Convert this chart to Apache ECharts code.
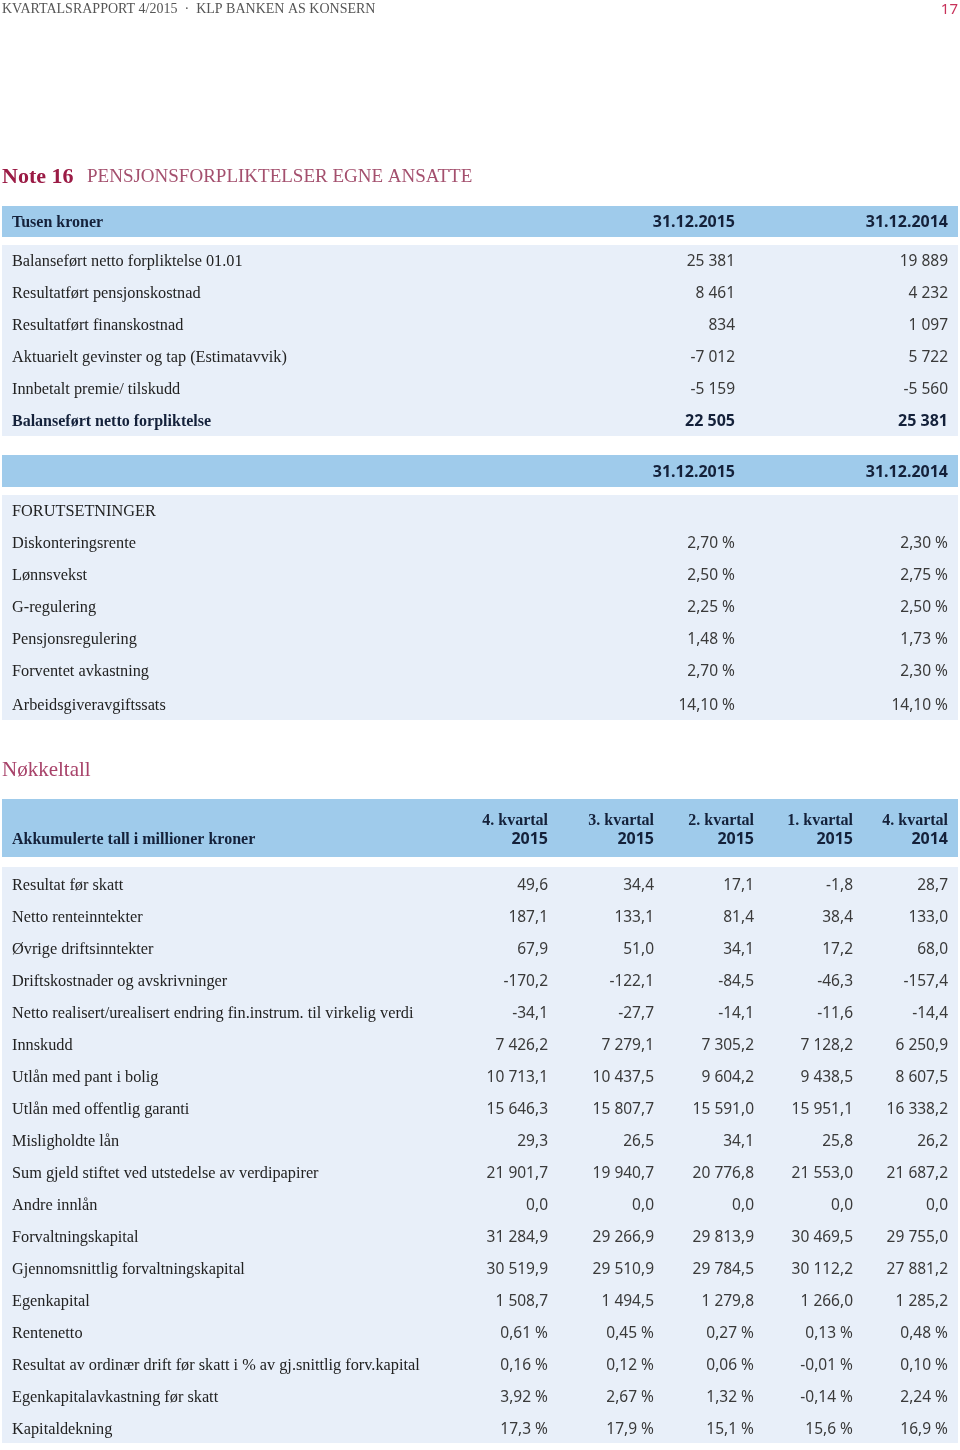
<!DOCTYPE html>
<html><head><meta charset="utf-8">
<script src="https://cdn.jsdelivr.net/npm/echarts@6/dist/echarts.min.js"></script>
<style>html,body{margin:0;padding:0;background:#fff}#c{width:960px;height:1450px}</style>
</head><body><div id="c"></div>
<script>
// ---------- DATA ----------
var pageHeader = "KVARTALSRAPPORT 4/2015  ·  KLP BANKEN AS KONSERN";
var pageNumber = "17";
var noteNumber = "Note 16";
var noteTitle = "PENSJONSFORPLIKTELSER EGNE ANSATTE";

var t1Head = ["Tusen kroner", "31.12.2015", "31.12.2014"];
var t1Labels = ["Balanseført netto forpliktelse 01.01", "Resultatført pensjonskostnad", "Resultatført finanskostnad",
  "Aktuarielt gevinster og tap (Estimatavvik)", "Innbetalt premie/ tilskudd", "Balanseført netto forpliktelse"];
var t1Col2015 = ["25 381", "8 461", "834", "-7 012", "-5 159", "22 505"];
var t1Col2014 = ["19 889", "4 232", "1 097", "5 722", "-5 560", "25 381"];

var t2Head = ["", "31.12.2015", "31.12.2014"];
var t2Labels = ["FORUTSETNINGER", "Diskonteringsrente", "Lønnsvekst", "G-regulering", "Pensjonsregulering",
  "Forventet avkastning", "Arbeidsgiveravgiftssats"];
var t2Col2015 = ["", "2,70 %", "2,50 %", "2,25 %", "1,48 %", "2,70 %", "14,10 %"];
var t2Col2014 = ["", "2,30 %", "2,75 %", "2,50 %", "1,73 %", "2,30 %", "14,10 %"];

var keyTitle = "Nøkkeltall";
var t3HeadLabel = "Akkumulerte tall i millioner kroner";
var t3Quarters = ["4. kvartal", "3. kvartal", "2. kvartal", "1. kvartal", "4. kvartal"];
var t3Years = ["2015", "2015", "2015", "2015", "2014"];
var t3Labels = ["Resultat før skatt", "Netto renteinntekter", "Øvrige driftsinntekter", "Driftskostnader og avskrivninger",
  "Netto realisert/urealisert endring fin.instrum. til virkelig verdi", "Innskudd", "Utlån med pant i bolig",
  "Utlån med offentlig garanti", "Misligholdte lån", "Sum gjeld stiftet ved utstedelse av verdipapirer", "Andre innlån",
  "Forvaltningskapital", "Gjennomsnittlig forvaltningskapital", "Egenkapital", "Rentenetto",
  "Resultat av ordinær drift før skatt i % av gj.snittlig forv.kapital", "Egenkapitalavkastning før skatt", "Kapitaldekning"];
var t3Q4_2015 = ["49,6", "187,1", "67,9", "-170,2", "-34,1", "7 426,2", "10 713,1", "15 646,3", "29,3", "21 901,7", "0,0", "31 284,9", "30 519,9", "1 508,7", "0,61 %", "0,16 %", "3,92 %", "17,3 %"];
var t3Q3_2015 = ["34,4", "133,1", "51,0", "-122,1", "-27,7", "7 279,1", "10 437,5", "15 807,7", "26,5", "19 940,7", "0,0", "29 266,9", "29 510,9", "1 494,5", "0,45 %", "0,12 %", "2,67 %", "17,9 %"];
var t3Q2_2015 = ["17,1", "81,4", "34,1", "-84,5", "-14,1", "7 305,2", "9 604,2", "15 591,0", "34,1", "20 776,8", "0,0", "29 813,9", "29 784,5", "1 279,8", "0,27 %", "0,06 %", "1,32 %", "15,1 %"];
var t3Q1_2015 = ["-1,8", "38,4", "17,2", "-46,3", "-11,6", "7 128,2", "9 438,5", "15 951,1", "25,8", "21 553,0", "0,0", "30 469,5", "30 112,2", "1 266,0", "0,13 %", "-0,01 %", "-0,14 %", "15,6 %"];
var t3Q4_2014 = ["28,7", "133,0", "68,0", "-157,4", "-14,4", "6 250,9", "8 607,5", "16 338,2", "26,2", "21 687,2", "0,0", "29 755,0", "27 881,2", "1 285,2", "0,48 %", "0,10 %", "2,24 %", "16,9 %"];

// ---------- LAYOUT / STYLE ----------
var L = 2, R = 958;
var HEAD_BG = '#9fcbeb', BODY_BG = '#e8eff9';
var SERIF = '"Liberation Serif", "DejaVu Serif", serif';
var SANS = '"Noto Sans", "Open Sans", sans-serif';
var LABEL_C = '#222', NUM_C = '#3a3a3a', HEAD_C = '#14213a';
var ROW = 32, DY = 1.5, LS = 16.3, NS = 15.5, HS = 16;

var g = [];
function rect(x, y, w, h, fill) { g.push({type: 'rect', shape: {x: x, y: y, width: w, height: h}, style: {fill: fill}, silent: true}); }
function txt(x, y, s, o) {
  o = o || {};
  g.push({type: 'text', x: x, y: y + DY, silent: true, style: {
    text: s, fill: o.fill || LABEL_C, font: (o.weight || 'normal') + ' ' + (o.size || LS) + 'px ' + (o.family || SERIF),
    align: o.align || 'left', verticalAlign: 'middle'}});
}

// page header
txt(2, 8, pageHeader, {fill: '#555', size: 14, family: SERIF});
txt(958, 8, pageNumber, {fill: '#c8325a', size: 15, family: SANS, align: 'right'});

// note title
txt(2, 176, noteNumber, {fill: '#9b1b45', size: 22, family: SERIF, weight: 'bold'});
txt(87, 176, noteTitle, {fill: '#a4506e', size: 19, family: SERIF});

// table 1
var t1Cols = [735, 948];
rect(L, 206, R - L, 31, HEAD_BG);
txt(12, 221, t1Head[0], {fill: HEAD_C, weight: 'bold', size: HS});
txt(t1Cols[0], 221, t1Head[1], {fill: HEAD_C, weight: 'bold', family: SANS, size: HS, align: 'right'});
txt(t1Cols[1], 221, t1Head[2], {fill: HEAD_C, weight: 'bold', family: SANS, size: HS, align: 'right'});
rect(L, 245, R - L, 191, BODY_BG);
t1Labels.forEach(function (lab, i) {
  var y = 260 + i * ROW, bold = i === t1Labels.length - 1;
  txt(12, y, lab, {weight: bold ? 'bold' : 'normal', fill: bold ? HEAD_C : LABEL_C, size: bold ? HS : LS});
  txt(t1Cols[0], y, t1Col2015[i], {family: SANS, size: bold ? HS : NS, fill: bold ? HEAD_C : NUM_C, weight: bold ? 'bold' : 'normal', align: 'right'});
  txt(t1Cols[1], y, t1Col2014[i], {family: SANS, size: bold ? HS : NS, fill: bold ? HEAD_C : NUM_C, weight: bold ? 'bold' : 'normal', align: 'right'});
});

// table 2
rect(L, 455, R - L, 32, HEAD_BG);
txt(t1Cols[0], 471, t2Head[1], {fill: HEAD_C, weight: 'bold', family: SANS, size: HS, align: 'right'});
txt(t1Cols[1], 471, t2Head[2], {fill: HEAD_C, weight: 'bold', family: SANS, size: HS, align: 'right'});
rect(L, 495, R - L, 225, BODY_BG);
t2Labels.forEach(function (lab, i) {
  var y = 510 + i * ROW + (i === t2Labels.length - 1 ? 2 : 0);
  txt(12, y, lab);
  txt(t1Cols[0], y, t2Col2015[i], {family: SANS, size: NS, fill: NUM_C, align: 'right'});
  txt(t1Cols[1], y, t2Col2014[i], {family: SANS, size: NS, fill: NUM_C, align: 'right'});
});

// key figures
txt(2, 769, keyTitle, {fill: '#a8436a', size: 21, family: SERIF});
var t3Cols = [548, 654, 754, 853, 948];
var t3Data = [t3Q4_2015, t3Q3_2015, t3Q2_2015, t3Q1_2015, t3Q4_2014];
rect(L, 799, R - L, 58, HEAD_BG);
txt(12, 838, t3HeadLabel, {fill: HEAD_C, weight: 'bold', size: HS});
t3Cols.forEach(function (cx, j) {
  txt(cx, 819, t3Quarters[j], {fill: HEAD_C, weight: 'bold', size: HS, align: 'right'});
  txt(cx, 838, t3Years[j], {fill: HEAD_C, weight: 'bold', family: SANS, size: HS, align: 'right'});
});
rect(L, 867, R - L, 576, BODY_BG);
t3Labels.forEach(function (lab, i) {
  var y = 884 + i * ROW;
  txt(12, y, lab);
  t3Cols.forEach(function (cx, j) {
    txt(cx, y, t3Data[j][i], {family: SANS, size: NS, fill: NUM_C, align: 'right'});
  });
});

var chart = echarts.init(document.getElementById('c'), null, {renderer: 'canvas'});
chart.setOption({animation: false, backgroundColor: '#fff', graphic: {elements: g}});
</script>
</body></html>
